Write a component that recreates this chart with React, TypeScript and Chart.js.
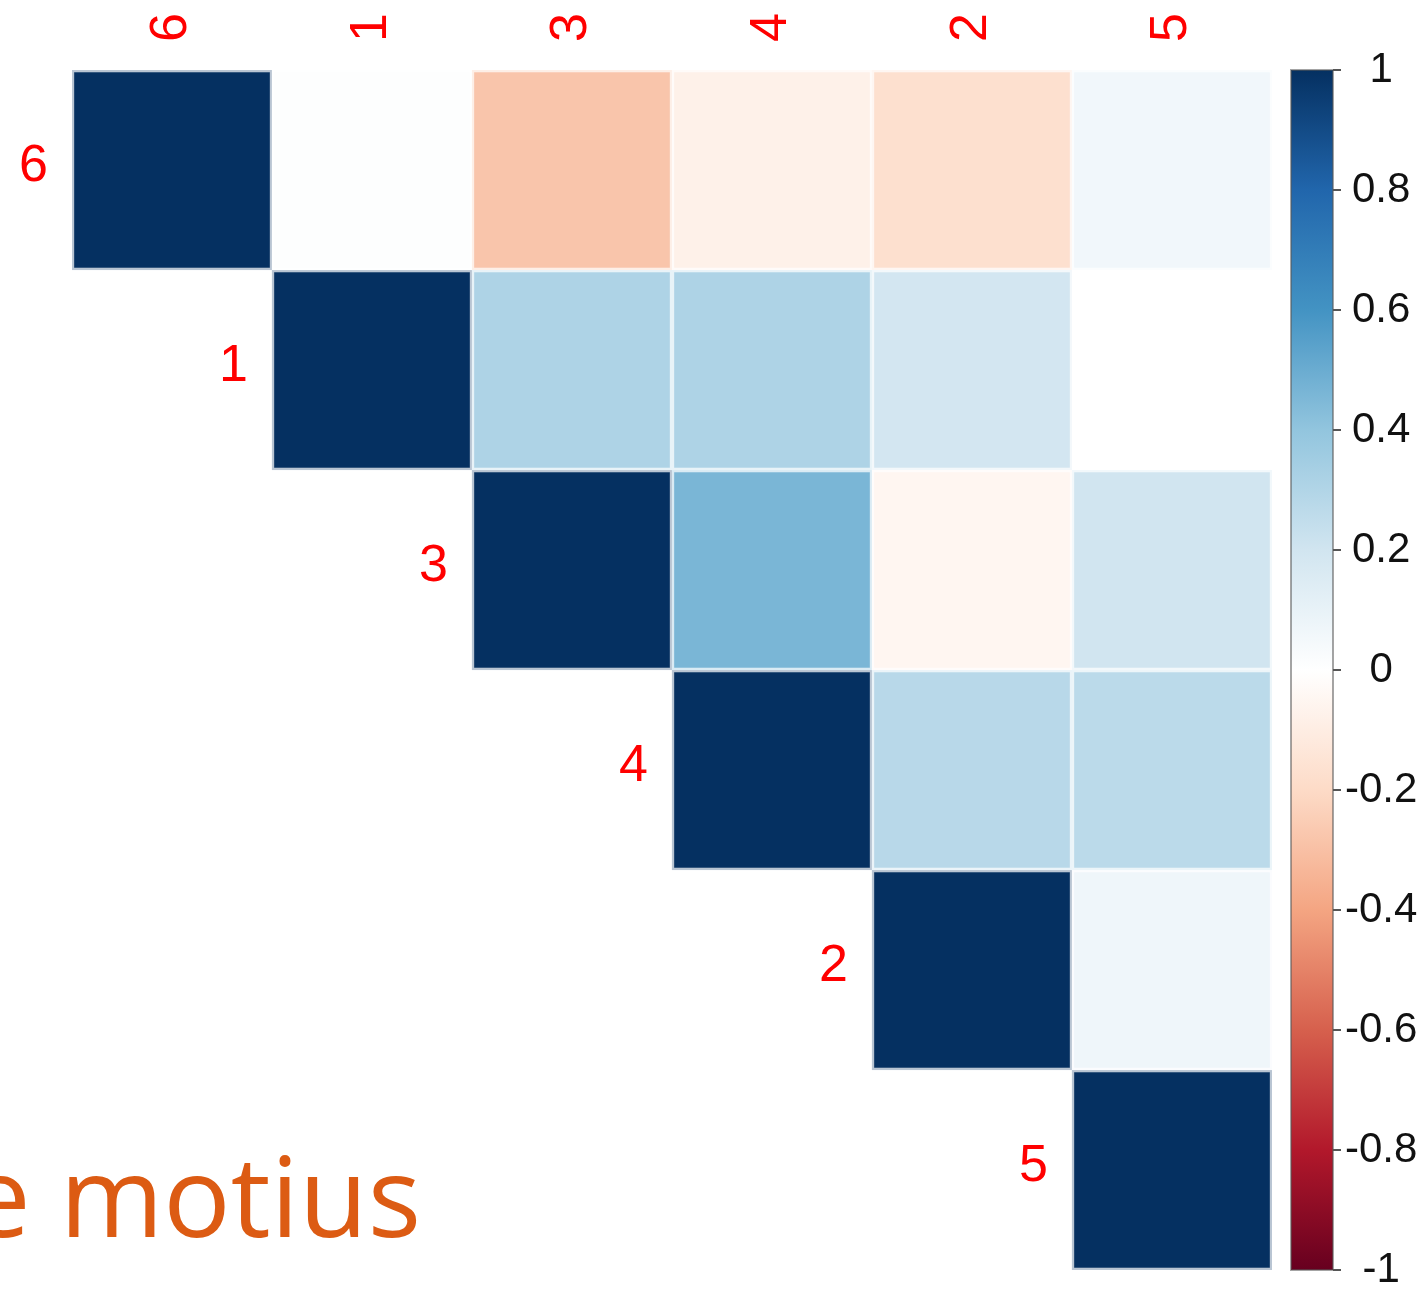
import React, { useEffect, useRef } from 'react';
import { Chart, registerables } from 'chart.js';

Chart.register(...registerables);

// Variable order (rows and columns)
const variables = ['6', '1', '3', '4', '2', '5'];

// Upper-triangle correlation rows (null = lower triangle, not drawn)
const corrRow6 = [1, 0.01, -0.28, -0.08, -0.17, 0.06];
const corrRow1 = [null, 1, 0.31, 0.31, 0.19, 0.0];
const corrRow3 = [null, null, 1, 0.46, -0.05, 0.2];
const corrRow4 = [null, null, null, 1, 0.28, 0.27];
const corrRow2 = [null, null, null, null, 1, 0.07];
const corrRow5 = [null, null, null, null, null, 1];

// Colour-bar tick values
const colorbarTicks = [1, 0.8, 0.6, 0.4, 0.2, 0, -0.2, -0.4, -0.6, -0.8, -1];

// RdBu palette from -1 to 1
const rdbu = ['#67001F', '#B2182B', '#D6604D', '#F4A582', '#FDDBC7', '#FFFFFF', '#D1E5F0', '#92C5DE', '#4393C3', '#2166AC', '#053061'];

const footerText = 'e motius';

const rows = [corrRow6, corrRow1, corrRow3, corrRow4, corrRow2, corrRow5];

function hexToRgb(h: string) {
  const n = parseInt(h.slice(1), 16);
  return [(n >> 16) & 255, (n >> 8) & 255, n & 255];
}

function mixRgb(a: number[], b: number[], f: number) {
  return a.map((v, i) => Math.round(v + (b[i] - v) * f));
}

function corrRgb(v: number) {
  const t = ((v + 1) / 2) * (rdbu.length - 1);
  const i = Math.max(0, Math.min(Math.floor(t), rdbu.length - 2));
  const f = t - i;
  return mixRgb(hexToRgb(rdbu[i]), hexToRgb(rdbu[i + 1]), f);
}

function rgbStr(c: number[]) {
  return `rgb(${c[0]},${c[1]},${c[2]})`;
}

const cellPlugin = {
  id: 'corrDecor',
  afterDraw(chart: any) {
    const { ctx, chartArea, scales } = chart;
    const x = scales.x;
    const y = scales.y;
    const cb = scales.cb;
    const cellW = x.getPixelForValue(1) - x.getPixelForValue(0);
    ctx.save();

    // Variable labels
    ctx.font = '52px "Liberation Sans", Arial, sans-serif';
    ctx.fillStyle = '#FF0000';
    variables.forEach((lab, i) => {
      const cx = x.getPixelForValue(i);
      ctx.save();
      ctx.translate(cx, chartArea.top - 28);
      ctx.rotate(-Math.PI / 2);
      ctx.textAlign = 'left';
      ctx.textBaseline = 'middle';
      ctx.fillText(lab, 0, 0);
      ctx.restore();

      const cy = (y.getPixelForValue(i) + y.getPixelForValue(i + 1)) / 2;
      ctx.textAlign = 'right';
      ctx.textBaseline = 'middle';
      ctx.fillText(lab, cx - cellW / 2 - 24, cy - 3);
    });

    // Colour bar
    const top = cb.getPixelForValue(1);
    const bottom = cb.getPixelForValue(-1);
    const bx0 = cb.left + 19;
    const bx1 = cb.left + 61;
    const grad = ctx.createLinearGradient(0, top, 0, bottom);
    for (let k = 0; k < rdbu.length; k++) {
      grad.addColorStop(k / (rdbu.length - 1), rdbu[rdbu.length - 1 - k]);
    }
    ctx.fillStyle = grad;
    ctx.fillRect(bx0, top, bx1 - bx0, bottom - top);
    ctx.strokeStyle = 'rgba(90,90,90,0.55)';
    ctx.lineWidth = 2;
    ctx.strokeRect(bx0, top, bx1 - bx0, bottom - top);

    ctx.strokeStyle = '#555555';
    ctx.lineWidth = 2;
    colorbarTicks.forEach((v) => {
      const py = cb.getPixelForValue(v);
      ctx.beginPath();
      ctx.moveTo(bx1, py);
      ctx.lineTo(bx1 + 8, py);
      ctx.stroke();
    });

    // Footer text (clipped at left edge)
    ctx.font = '112px "Open Sans", "Noto Sans", sans-serif';
    ctx.fillStyle = '#DC5B13';
    ctx.textAlign = 'right';
    ctx.textBaseline = 'alphabetic';
    ctx.fillText(footerText, 421, 1237);

    ctx.restore();
  },
};

export default function App() {
  const canvasRef = useRef<HTMLCanvasElement | null>(null);

  useEffect(() => {
    if (!canvasRef.current) return;
    const datasets = rows.map((row, r) => {
      const fills = row.map((v) => (v == null ? 'rgba(0,0,0,0)' : rgbStr(corrRgb(v))));
      const borders = row.map((v) =>
        v == null ? 'rgba(0,0,0,0)' : rgbStr(mixRgb(corrRgb(v), [255, 255, 255], 0.72))
      );
      return {
        label: variables[r],
        data: row.map((v) => (v == null ? null : [r, r + 1])),
        backgroundColor: fills,
        borderColor: borders,
        borderWidth: 2.5,
        borderSkipped: false,
        barPercentage: 1,
        categoryPercentage: 1,
        grouped: false,
        yAxisID: 'y',
      };
    });

    const chart = new Chart(canvasRef.current, {
      type: 'bar',
      data: { labels: variables, datasets: datasets as any },
      options: {
        animation: false,
        responsive: true,
        maintainAspectRatio: false,
        events: [],
        layout: { padding: { left: 72, top: 70, right: 0, bottom: 20 } },
        plugins: { legend: { display: false }, tooltip: { enabled: false } },
        scales: {
          x: { type: 'category', display: false, offset: true },
          y: { type: 'linear', display: false, min: 0, max: 6, reverse: true },
          cb: {
            type: 'linear',
            position: 'right',
            min: -1,
            max: 1,
            grid: { display: false, drawTicks: false },
            border: { display: false },
            afterBuildTicks: (s: any) => {
              s.ticks = colorbarTicks.map((v) => ({ value: v }));
            },
            afterFit: (s: any) => {
              s.width = 150;
              s.paddingTop = 0;
              s.paddingBottom = 0;
            },
            ticks: {
              autoSkip: false,
              padding: 73,
              crossAlign: 'center',
              color: '#111111',
              font: { family: '"Liberation Sans", Arial, sans-serif', size: 42 },
              callback: (v: any) => String(Number(Number(v).toFixed(1))),
            },
          },
        } as any,
      },
      plugins: [cellPlugin],
    });
    return () => chart.destroy();
  }, []);

  return (
    <div style={{ position: 'absolute', left: 0, top: 0, width: 1422, height: 1290, background: '#ffffff' }}>
      <canvas ref={canvasRef} />
    </div>
  );
}
